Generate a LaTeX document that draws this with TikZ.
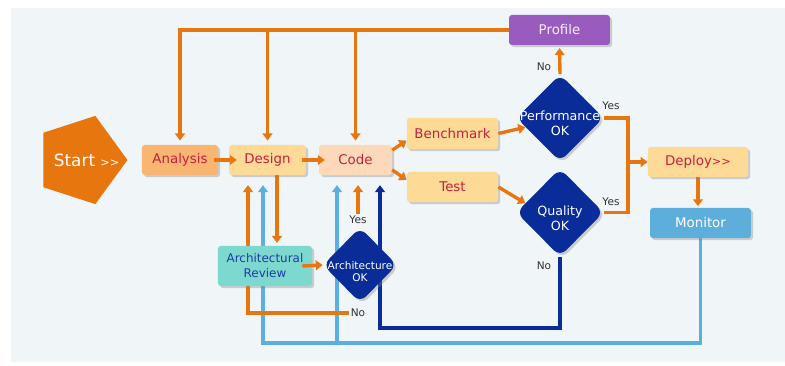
\documentclass[tikz,border=0pt]{standalone}
\usepackage{fontspec}
\setmainfont{DejaVu Sans}
\usetikzlibrary{shapes.geometric,arrows.meta,shadows,calc}
\pgfdeclarelayer{panel}
\pgfdeclarelayer{lines}
\pgfsetlayers{panel,lines,main}
\definecolor{flowor}{HTML}{E8760F}
\definecolor{navy}{HTML}{0A2C99}
\definecolor{skyline}{HTML}{5BAFDF}
\definecolor{boxred}{HTML}{C42040}
\definecolor{anafill}{HTML}{F9B572}
\definecolor{desfill}{HTML}{FDDB96}
\definecolor{codefill}{HTML}{FCD9B8}
\definecolor{proffill}{HTML}{9A5BBE}
\definecolor{monfill}{HTML}{5EAEDB}
\definecolor{revfill}{HTML}{7DD9D0}
\definecolor{revtext}{HTML}{1E3C9E}
\definecolor{panelbg}{HTML}{F0F5F8}
\begin{document}
\begin{tikzpicture}[x=0.025cm, y=-0.025cm,
    every node/.style={font=\fontsize{9.5}{11}\selectfont},
    box/.style={rounded corners=2pt, minimum height=0.75cm, inner sep=1pt, align=center, text=boxred,
        drop shadow={shadow xshift=1.5pt, shadow yshift=-1.5pt, opacity=.35}},
    decision/.style={diamond, fill=navy, inner sep=0pt, rounded corners=6pt,
        drop shadow={shadow xshift=1.5pt, shadow yshift=-1.5pt, opacity=.35}},
    dtext/.style={text=white, align=center, yshift=-4pt, font=\fontsize{9}{10.7}\selectfont},
    tag/.style={font=\fontsize{7.5}{8}\selectfont, text=black!80, inner sep=1pt},
    flow/.style={draw=flowor, line width=2.4pt},
    navyflow/.style={draw=navy, line width=2.4pt},
    skyflow/.style={draw=skyline, line width=2.2pt},
    tip/.style={-{Triangle[length=5pt,width=7pt]}}]
    \useasboundingbox (0,0) rectangle (785,366);
    \begin{pgfonlayer}{panel}
        \fill[panelbg] (11,8) rectangle (785,362);
    \end{pgfonlayer}

    % Start
    \node[regular polygon, regular polygon sides=5, shape border rotate=-90, fill=flowor,
        minimum size=2.32cm, inner sep=0pt,
        label={[text=white, xshift=4pt]center:{\fontsize{12}{12}\selectfont Start \fontsize{8}{8}\selectfont>{}>}}] (start) at (81,160) {};

    % Analysis
    \node[box, fill=anafill, minimum width=1.9cm] (analysis) at (180,160) {Analysis};

    % Design
    \node[box, fill=desfill, minimum width=1.92cm] (design) at (267.5,160) {Design};

    % Code
    \node[box, fill=codefill, minimum width=1.82cm] (code) at (355.5,160) {Code};

    % Benchmark
    \node[box, fill=desfill, minimum width=2.28cm, minimum height=0.78cm] (bench) at (452.5,133.5) {Benchmark};

    % Test
    \node[box, fill=desfill, minimum width=2.28cm] (test) at (452.5,187) {Test};

    % Performance OK
    \node[decision, minimum width=2.18cm, minimum height=2.18cm,
        label={[dtext]center:{Performance\\OK}}] (perf) at (560,118) {};

    % Quality OK
    \node[decision, minimum width=2.18cm, minimum height=2.2cm,
        label={[dtext]center:{Quality\\OK}}] (qual) at (560,212.5) {};

    % Profile
    \node[box, fill=proffill, text=white!90!proffill, minimum width=2.52cm] (profile) at (559.5,30) {Profile};

    % Deploy
    \node[box, fill=desfill, minimum width=2.5cm] (deploy) at (698,162) {Deploy{\fontsize{8}{8}\selectfont>{}>}};

    % Monitor
    \node[box, fill=monfill, text=white, minimum width=2.52cm] (monitor) at (700.5,223) {Monitor};

    % Architectural Review
    \node[box, fill=revfill, text=revtext, minimum width=2.35cm, minimum height=1cm,
        font=\fontsize{8.5}{10.7}\selectfont] (review) at (265,266) {Architectural\\Review};

    % Architecture OK
    \node[decision, minimum width=1.85cm, minimum height=1.88cm,
        label={[dtext, yshift=-1pt, font=\fontsize{7.5}{8.5}\selectfont]center:{Architecture\\OK}}] (arch) at (360,265) {};

    % Yes / No
    \node[tag] (pno) at (544,67) {No};
    \node[tag] (pyes) at (611,106) {Yes};
    \node[tag] (qyes) at (611,202) {Yes};
    \node[tag] (qno) at (544,266) {No};
    \node[tag] (ayes) at (358,220) {Yes};
    \node[tag] (ano) at (358,313) {No};

    % Connectors
    \coordinate (ybus) at (628,162);
    \coordinate (mbus) at (263,343);
    \coordinate (cbus) at (337,343);
    \coordinate (qbus) at (380,328);
    \coordinate (dr) at ($(design.south)+(9.5,0)$);
    \begin{pgfonlayer}{lines}
        \draw[flow, tip, shorten >=3pt] (profile.west) -| (analysis.north);
        \draw[flow, tip, shorten >=3pt] (design.north |- profile.west) -- (design.north);
        \draw[flow, tip, shorten >=3pt] (code.north |- profile.west) -- (code.north);
        \draw[flow, tip, shorten >=2pt] (perf.north) -- (profile.south);
        \draw[flow] (perf.east) -| (ybus) |- (qual.east);
        \draw[flow, tip] (ybus) -- (deploy.west);
        \draw[flow, tip, shorten >=1pt] (deploy.south) -- (deploy.south |- monitor.north);
        \draw[skyflow, tip, shorten >=7pt] (monitor.south) |- (mbus) -- (mbus |- design.south);
        \draw[skyflow, tip, shorten >=7pt] (cbus) -- (cbus |- code.south);
        \draw[navyflow, tip, shorten >=7pt] (qual.south) |- (qbus) -- (qbus |- code.south);
        \draw[flow, tip, shorten >=7pt] (ano.west) -| ($(design.south)+(-19.5,0)$);
        \draw[flow, tip, shorten >=2pt] (dr) -- (dr |- review.north);
        \draw[flow, tip, shorten >=7pt] (ayes.north) -- (ayes.north |- code.south);
    \end{pgfonlayer}
    \draw[flow, tip] ($(analysis.east)+(-4,0)$) -- ($(design.west)+(8,0)$);
    \draw[flow, tip] ($(design.east)+(-4,0)$) -- ($(code.west)+(6,0)$);
    \draw[flow, tip] (code.15) -- ([yshift=-5pt]bench.west);
    \draw[flow, tip] (code.345) -- ([yshift=5pt]test.west);
    \draw[flow, tip] (bench.east) -- (perf.195);
    \draw[flow, tip] (test.east) -- (qual.165);
    \draw[flow, tip] ($(review.east)+(-10,0)$) -- (arch.west);
\end{tikzpicture}
\end{document}
